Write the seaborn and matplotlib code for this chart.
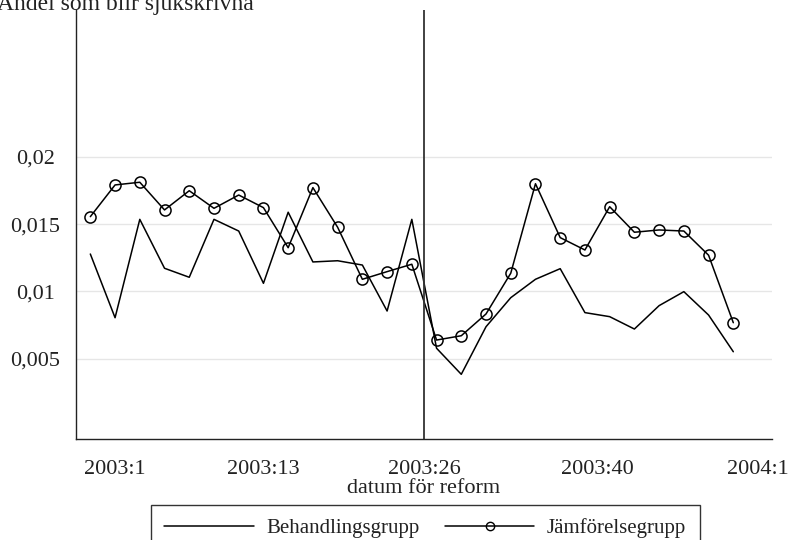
import matplotlib
matplotlib.use("Agg")
import matplotlib.pyplot as plt
import seaborn as sns
import pandas as pd
from matplotlib.lines import Line2D

# weeks relative to 2003:1 (Stata weekly numbering, 52 weeks/year)
weeks = [-2, 0, 2, 4, 6, 8, 10, 12, 14, 16, 18, 20, 22, 24,
         26, 28, 30, 32, 34, 36, 38, 40, 42, 44, 46, 48, 50]
behandling = [0.01278, 0.00804, 0.01536, 0.01172, 0.01105, 0.01536, 0.01449,
              0.01060, 0.01589, 0.01219, 0.01228, 0.01196, 0.00854, 0.01536,
              0.00577, 0.00383, 0.00737, 0.00953, 0.01090, 0.01169, 0.00842,
              0.00812, 0.00720, 0.00894, 0.00998, 0.00824, 0.00551]
jamforelse = [0.01556, 0.01792, 0.01812, 0.01606, 0.01749, 0.01618, 0.01717,
              0.01623, 0.01325, 0.01772, 0.01477, 0.01090, 0.01147, 0.01202,
              0.00638, 0.00670, 0.00832, 0.01135, 0.01801, 0.01400, 0.01308,
              0.01630, 0.01440, 0.01457, 0.01449, 0.01269, 0.00767]
xtick_pos = [0, 12, 25, 39, 52]
xtick_labels = ["2003:1", "2003:13", "2003:26", "2003:40", "2004:1"]
ytick_pos = [0.005, 0.01, 0.015, 0.02]
ytick_labels = ["0,005", "0,01", "0,015", "0,02"]
reform_week = 25

sns.set_style("white")
plt.rcParams["font.family"] = ["Liberation Serif", "DejaVu Serif"]
plt.rcParams["text.color"] = "#222222"

df_b = pd.DataFrame({"vecka": weeks, "andel": behandling})
df_j = pd.DataFrame({"vecka": weeks, "andel": jamforelse})

fig = plt.figure(figsize=(7.89, 5.4), dpi=100)
ax = fig.add_axes([0.096, 0.1876, 0.882, 0.794])

for y in ytick_pos:
    ax.axhline(y, color="#e6e6e6", lw=1.0, zorder=0)

sns.lineplot(data=df_b, x="vecka", y="andel", ax=ax, color="black", lw=1.1)
sns.lineplot(data=df_j, x="vecka", y="andel", ax=ax, color="black", lw=1.1,
             marker="o", markersize=8, markerfacecolor="none",
             markeredgecolor="black", markeredgewidth=1.1)
ax.axvline(reform_week, color="#333333", lw=1.3)

ax.set_xlim(-3.18, 53.1)
ax.set_ylim(-0.00096, 0.03094)
ax.set_xticks(xtick_pos)
ax.set_xticklabels(xtick_labels)
ax.set_yticks(ytick_pos)
ax.set_yticklabels(ytick_labels)
ax.tick_params(axis="both", direction="out", length=8.5, width=1.0,
               color="#222222", labelsize=16, labelcolor="#222222")
ax.tick_params(axis="x", pad=7)
ax.tick_params(axis="y", pad=20.5)
for lbl in ax.get_yticklabels():
    lbl.set_horizontalalignment("center")
for s in ["top", "right"]:
    ax.spines[s].set_visible(False)
for s in ["left", "bottom"]:
    ax.spines[s].set_color("#222222")
    ax.spines[s].set_linewidth(1.0)
ax.set_xlabel("datum för reform", fontsize=16, labelpad=0, color="#222222")
ax.set_ylabel("")

fig.text(-0.004, 0.982, "Andel som blir sjukskrivna", fontsize=17,
         ha="left", va="baseline", color="#222222")

handles = [Line2D([], [], color="black", lw=1.1),
           Line2D([], [], color="black", lw=1.1, marker="o", markersize=6,
                  markerfacecolor="none", markeredgecolor="black")]
leg = fig.legend(handles, ["Behandlingsgrupp", "Jämförelsegrupp"],
                 loc="upper center", bbox_to_anchor=(0.539, 1 - 505 / 540),
                 borderaxespad=0,
                 ncol=2, fontsize=15, frameon=True, fancybox=False,
                 handlelength=4.3, columnspacing=1.2, handletextpad=0.6,
                 borderpad=0.65)
leg.get_frame().set_edgecolor("black")
leg.get_frame().set_linewidth(1.0)

fig.savefig("out.png", dpi=100)
